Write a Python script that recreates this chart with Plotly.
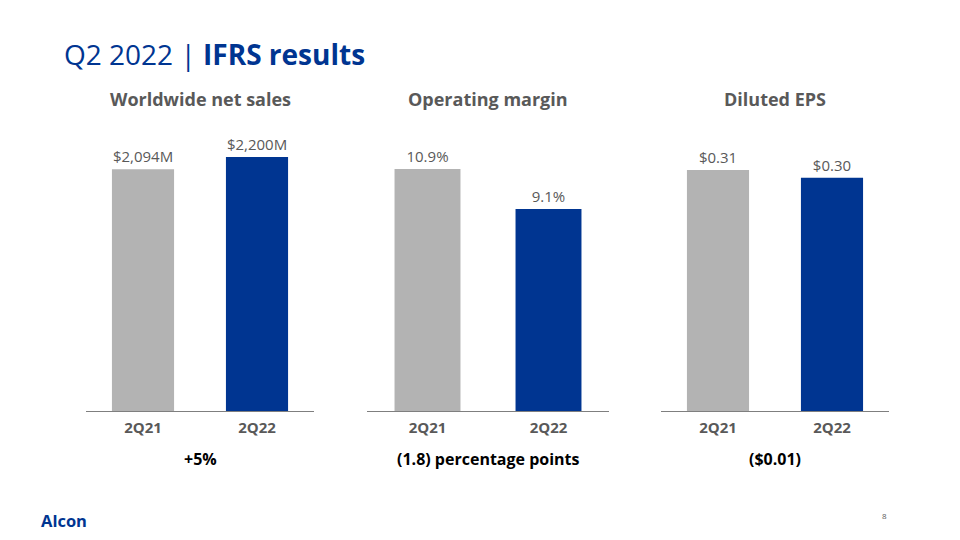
import plotly.graph_objects as go

categories = ["2Q21", "2Q22"]
panel_titles = ["Worldwide net sales", "Operating margin", "Diluted EPS"]
sales_values = [2094, 2200]
sales_labels = ["$2,094M", "$2,200M"]
margin_values = [10.9, 9.1]
margin_labels = ["10.9%", "9.1%"]
eps_values = [0.31, 0.30]
eps_labels = ["$0.31", "$0.30"]
change_labels = ["+5%", "(1.8) percentage points", "($0.01)"]

W, H = 960, 540
GRAY = "#B3B3B3"
BLUE = "#003591"
TXT = "#595959"
FONT = "Open Sans"

panels = [
    (sales_values, sales_labels, 86, 314, 2434),
    (margin_values, margin_labels, 367, 609, 12.66),
    (eps_values, eps_labels, 661, 889, 0.3615),
]
y_top, y_bot = 130, 411

fig = go.Figure()
layout = dict(
    width=W, height=H, margin=dict(l=0, r=0, t=0, b=0),
    paper_bgcolor="white", plot_bgcolor="white", showlegend=False,
    font=dict(family=FONT, color=TXT), bargap=0.455,
)
annotations = []
for i, (vals, labs, x0, x1, ymax) in enumerate(panels):
    n = "" if i == 0 else str(i + 1)
    fig.add_trace(go.Bar(
        x=categories, y=vals, text=labs, textposition="outside",
        textfont=dict(size=15, color=TXT, family=FONT),
        marker=dict(color=[GRAY, BLUE], line=dict(width=0)),
        cliponaxis=False, xaxis="x" + n, yaxis="y" + n, hoverinfo="skip",
    ))
    layout["xaxis" + n] = dict(
        domain=[x0 / W, x1 / W], anchor="y" + n, showline=True,
        linecolor="#7F7F7F", linewidth=1, showgrid=False, ticks="",
        tickvals=categories, ticktext=["<b>" + c + "</b>" for c in categories],
        tickfont=dict(size=15, color=TXT, family=FONT),
        ticklabelstandoff=3, fixedrange=True,
    )
    layout["yaxis" + n] = dict(
        domain=[1 - y_bot / H, 1 - y_top / H], anchor="x" + n,
        range=[0, ymax], visible=False, fixedrange=True,
    )
    cx = (x0 + x1) / 2 / W
    annotations.append(dict(
        text="<b>" + panel_titles[i] + "</b>", x=cx, y=1 - 99 / H,
        xref="paper", yref="paper", showarrow=False,
        font=dict(size=18, color=TXT, family=FONT), xanchor="center", yanchor="middle",
    ))
    annotations.append(dict(
        text="<b>" + change_labels[i] + "</b>", x=cx, y=1 - 459 / H,
        xref="paper", yref="paper", showarrow=False,
        font=dict(size=16, color="#000000", family=FONT), xanchor="center", yanchor="middle",
    ))

annotations.append(dict(
    text="Q2 2022 | <b>IFRS results</b>", x=62 / W, y=1 - 54 / H,
    xref="paper", yref="paper", showarrow=False, xanchor="left", yanchor="middle",
    font=dict(size=28, color=BLUE, family=FONT),
))
annotations.append(dict(
    text="<b>Alcon</b>", x=39 / W, y=1 - 520 / H,
    xref="paper", yref="paper", showarrow=False, xanchor="left", yanchor="middle",
    font=dict(size=16.5, color=BLUE, family=FONT),
))
annotations.append(dict(
    text="8", x=884 / W, y=1 - 515 / H,
    xref="paper", yref="paper", showarrow=False, xanchor="center", yanchor="middle",
    font=dict(size=8, color=TXT, family=FONT),
))
layout["annotations"] = annotations
fig.update_layout(**layout)
fig.write_html(
    "out.html", config={"displayModeBar": False},
    post_script="document.body.style.margin='0';document.body.style.overflow='hidden';",
)
